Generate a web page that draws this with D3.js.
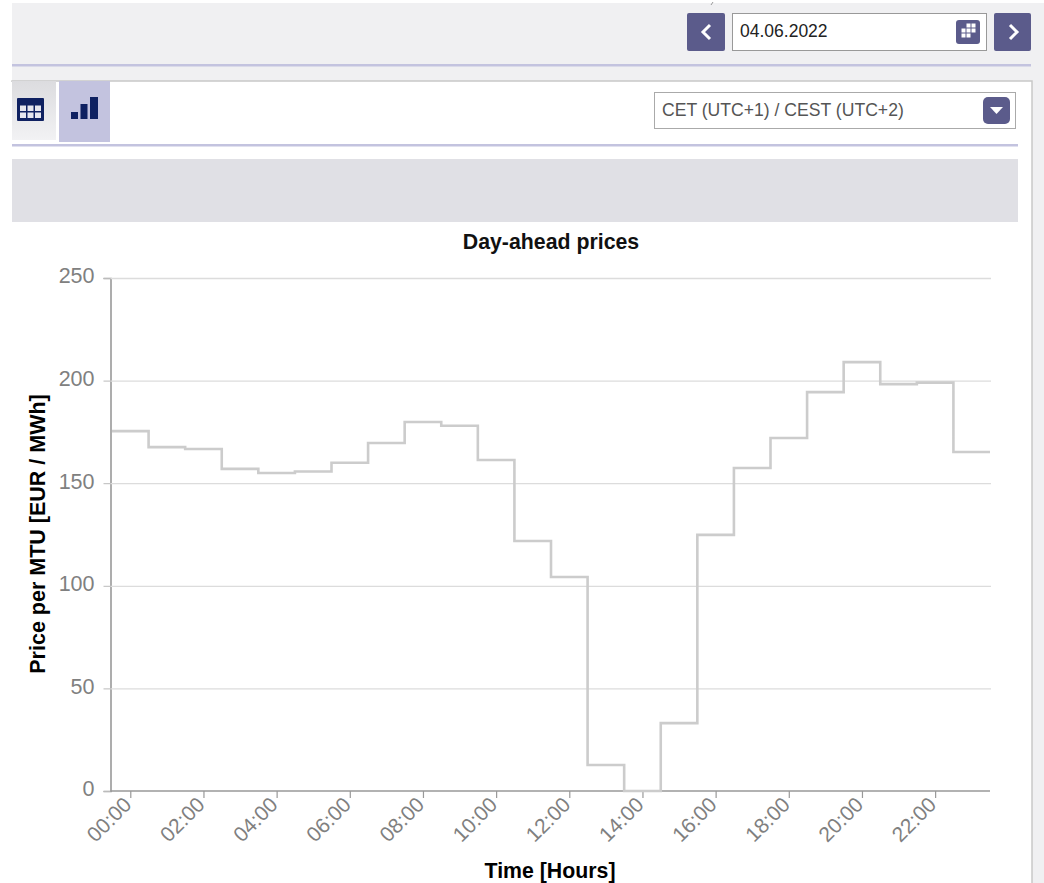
<!DOCTYPE html>
<html lang="en">

<head>
    <meta charset="UTF-8">
    <title>Day-ahead prices</title>
    <style>
        html, body {
            margin: 0;
            padding: 0;
            background: #fff;
            overflow: hidden;
        }

        svg {
            display: block;
            font-family: "Liberation Sans", Arial, sans-serif;
        }
    </style>
</head>

<body>
    <svg id="page" width="1044" height="883"></svg>
    <script src="https://d3js.org/d3.v7.min.js"></script>

    <script>
        const hours = ['00:00', '01:00', '02:00', '03:00', '04:00', '05:00', '06:00', '07:00', '08:00', '09:00', '10:00', '11:00',
            '12:00', '13:00', '14:00', '15:00', '16:00', '17:00', '18:00', '19:00', '20:00', '21:00', '22:00', '23:00'];
        const prices = [175.4, 167.6, 166.7, 157, 155, 155.7, 160, 169.6, 179.8, 178, 161.3, 121.8,
            104.3, 12.7, 0, 33.1, 124.8, 157.4, 172, 194.4, 209, 198.3, 199, 165.2];
        const priceTicks = [0, 50, 100, 150, 200, 250];

        const svg = d3.select('#page');

        // page furniture
        const rect = (x, y, w, h, fill, extra = {}) => {
            const r = svg.append('rect').attr('x', x).attr('y', y).attr('width', w).attr('height', h).attr('fill', fill);
            Object.entries(extra).forEach(([k, v]) => r.attr(k, v));
            return r;
        };
        const navy = '#5b5b8b';
        const lavender = '#c3c3df';

        rect(12, 3, 1032, 880, '#f0f0f2');
        rect(12, 64, 1019, 2.5, lavender);
        rect(12, 81, 1020, 820, '#fff', { stroke: '#c8c8c8', 'stroke-width': 1.5 });
        rect(0, 82, 14, 801, '#fff');

        svg.append('path').attr('d', 'M713 2 L711 5').attr('stroke', '#999').attr('fill', 'none');

        // date picker
        rect(687, 13, 38, 38, navy, { rx: 2 });
        svg.append('path').attr('d', 'M710 25 L703 32 L710 39').attr('fill', 'none').attr('stroke', '#fff').attr('stroke-width', 3);
        rect(732.5, 13.5, 254, 37, '#fff', { stroke: '#999' });
        svg.append('text').attr('x', 740).attr('y', 37).attr('font-size', 17.5).attr('fill', '#222').text('04.06.2022');
        rect(956, 20, 24, 24, navy, { rx: 3 });
        [[966.5, 23.5], [971.5, 23.5], [961.5, 28.5], [966.5, 28.5], [971.5, 28.5], [961.5, 33.5], [966.5, 33.5]].forEach(([x, y]) => {
            rect(x, y, 4, 4, '#fff');
        });
        rect(994, 13, 37, 38, navy, { rx: 2 });
        svg.append('path').attr('d', 'M1010 25 L1017 32 L1010 39').attr('fill', 'none').attr('stroke', '#fff').attr('stroke-width', 3);

        // toolbar
        const tabGrad = svg.append('defs').append('linearGradient').attr('id', 'tabGrad').attr('x1', 0).attr('x2', 0).attr('y1', 0).attr('y2', 1);
        tabGrad.append('stop').attr('offset', 0).attr('stop-color', '#dcdcdf');
        tabGrad.append('stop').attr('offset', 1).attr('stop-color', '#f2f2f4');
        rect(12, 81, 44, 59, 'url(#tabGrad)');
        rect(59, 81, 51, 61, lavender);
        rect(17, 98, 27, 23, '#0f2161', { rx: 1 });
        d3.range(3).forEach(i => d3.range(2).forEach(j => rect(20 + i * 7.5, 105.5 + j * 7, 6, 5.5, '#e6e6ee')));
        [[71, 112, 7, 7], [80.5, 104, 7, 15], [90, 97, 8, 22]].forEach(([x, y, w, h]) => rect(x, y, w, h, '#0f2161'));
        rect(12, 144, 1006, 2.5, lavender);

        // time zone select
        rect(654.5, 92.5, 361, 36, '#fff', { stroke: '#aaa' });
        svg.append('text').attr('x', 662).attr('y', 115.5).attr('font-size', 17.6).attr('fill', '#555').text('CET (UTC+1) / CEST (UTC+2)');
        rect(983, 97, 27, 27, navy, { rx: 5 });
        svg.append('path').attr('d', 'M990 107 L1003 107 L996.5 114 Z').attr('fill', '#fff');

        rect(12, 159, 1006, 63, '#e0e0e5');

        // chart
        const axisLeft = 110.5;
        const x = d3.scaleLinear().domain([0, hours.length]).range([112, 990]);
        const y = d3.scaleLinear().domain([0, 250]).range([791, 278]);

        // y axis with gridlines
        const yAxis = d3.axisLeft(y).tickValues(priceTicks).tickSize(7).tickPadding(9);
        const yG = svg.append('g').attr('transform', `translate(${axisLeft},0)`).call(yAxis);
        yG.select('.domain').attr('stroke', '#999').attr('stroke-width', 1.6);
        yG.selectAll('.tick line').attr('stroke', '#bbb');
        yG.selectAll('.tick').filter(d => d > 0).append('line')
            .attr('x1', 0).attr('x2', x(24) - axisLeft + 1).attr('stroke', '#dcdcdc').attr('stroke-width', 1.3);
        yG.selectAll('.tick text').attr('font-size', 21.5).attr('fill', '#808080').attr('font-family', '"Liberation Sans", Arial, sans-serif').attr('y', -2);

        // x axis
        const xAxis = d3.axisBottom(x)
            .tickValues(d3.range(0, hours.length, 2).map(i => i + 0.5))
            .tickFormat(d => hours[d - 0.5])
            .tickSize(7)
            .tickSizeOuter(0);
        const xG = svg.append('g').attr('transform', `translate(0,${y(0)})`).call(xAxis);
        xG.select('.domain').attr('d', `M${axisLeft},0H${x(24)}`).attr('stroke', '#999').attr('stroke-width', 1.6);
        xG.selectAll('.tick line').attr('stroke', '#999').attr('stroke-width', 1.2);
        xG.selectAll('.tick text')
            .attr('font-size', 21)
            .attr('fill', '#808080')
            .attr('font-family', '"Liberation Sans", Arial, sans-serif')
            .attr('text-anchor', 'end')
            .attr('dy', 0)
            .attr('y', 0)
            .attr('transform', 'translate(2,15) rotate(-45)');

        // price line, one step per hour, last value held to the end of the axis
        const line = d3.line()
            .x((d, i) => x(i))
            .y(d => y(d))
            .curve(d3.curveStepAfter);
        svg.append('path')
            .datum(prices.concat(prices[prices.length - 1]))
            .attr('d', line)
            .attr('fill', 'none')
            .attr('stroke', '#cccccc')
            .attr('stroke-width', 2.6);

        // titles
        svg.append('text').attr('x', 551).attr('y', 249).attr('text-anchor', 'middle')
            .attr('font-size', 21.3).attr('font-weight', 'bold').attr('fill', '#111').text('Day-ahead prices');
        svg.append('text').attr('x', 550).attr('y', 878).attr('text-anchor', 'middle')
            .attr('font-size', 21.3).attr('font-weight', 'bold').attr('fill', '#000').text('Time [Hours]');
        svg.append('text').attr('transform', 'translate(45,534) rotate(-90)').attr('text-anchor', 'middle')
            .attr('font-size', 21.5).attr('font-weight', 'bold').attr('fill', '#000').text('Price per MTU [EUR / MWh]');
    </script>
</body>

</html>
